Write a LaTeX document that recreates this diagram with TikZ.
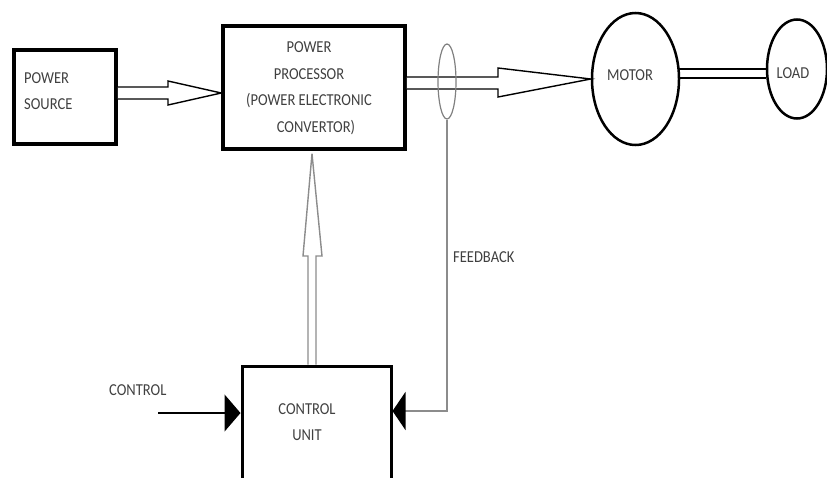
\documentclass[tikz,border=0pt]{standalone}
\usepackage{fontspec}
\setmainfont{Carlito}[FakeStretch=0.87]
\usetikzlibrary{arrows.meta,shapes.geometric,calc}
\tikzset{
  blk/.style={draw=black, line width=3.5pt, rectangle, inner sep=0pt},
  oval/.style={draw=black, line width=2.5pt, ellipse, inner sep=0pt},
  lbl/.style={text=black!75, font={\fontsize{16.7}{26.5}\selectfont}, inner sep=0pt},
  hollow/.style={draw=black, line width=1.4pt, fill=white, line join=miter},
  hollowg/.style={draw=black!45, line width=1.4pt, fill=white, line join=miter},
  fbline/.style={draw=black!45, line width=1.5pt},
  cline/.style={draw=black, line width=1.3pt},
}
\begin{document}
\begin{tikzpicture}[x=1pt,y=-1pt]
\useasboundingbox (0,0) rectangle (827,477);
% boxes
\node[blk, minimum width=102, minimum height=94] (src) at (65,97) {};
\node[lbl, anchor=west, align=left] (srct) at (24,91) {POWER\\SOURCE};
\node[blk, minimum width=182, minimum height=123] (pp) at (314,87.5) {};
\node[lbl, align=center] (ppt) at (309,88) {POWER\\PROCESSOR\\(POWER ELECTRONIC\\\hspace*{14pt}CONVERTOR)};
\node[oval, minimum width=87, minimum height=132] (motor) at (635.5,79) {};
\node[lbl] (motort) at (630,75) {MOTOR};
\node[oval, minimum width=60, minimum height=99] (load) at (797,69) {};
\node[lbl] (loadt) at (793,73) {LOAD};
\node[blk, line width=3pt, minimum width=149, minimum height=118] (cu) at (316.5,425) {};
\node[lbl, align=center] (cut) at (307,422) {CONTROL\\UNIT};
% labels
\node[lbl, anchor=west] (fbt) at (453,257) {FEEDBACK};
\node[lbl, anchor=west] (ctlt) at (109,390) {CONTROL};
% hollow arrow source -> processor
\draw[hollow] (src.east |- 0,87) -- (168,87) -- (168,81) -- (pp.west |- 0,93) -- (168,105) -- (168,99) -- (src.east |- 0,99);
% hollow arrow processor -> motor
\draw[hollow] (pp.east |- 0,77) -- (498,77) -- (498,68) -- (motor.west) -- (498,97) -- (498,89) -- (pp.east |- 0,89);
% shaft motor -> load
\draw[line width=1.5pt] ($(motor.east |- 0,69)+(-1,0)$) -- (load.west |- 0,69);
\draw[line width=1.5pt] ($(motor.east |- 0,78)+(-1,0)$) -- (load.west |- 0,78);
% ring on the power lines
\node[draw=black!50, line width=1.2pt, ellipse, minimum width=18, minimum height=75, inner sep=0pt] (ring) at (447,81.5) {};
% hollow arrow control unit -> processor
\draw[hollowg] (cu.north -| 308,0) -- (308,256) -- (303,256) -- ($(pp.south -| 312,0)+(0,3)$) -- (322,256) -- (316,256) -- (cu.north -| 316,0);
% feedback
\coordinate (fbc) at ($(cu.east)+(0,-14)$);
\draw[fbline, -{Triangle[length=13pt,width=38pt,color=black]}] (ring.south) |- (fbc);
% control input
\coordinate (ctl) at (158,413);
\draw[cline, -{Triangle[length=16pt,width=37pt]}] (ctl) -- (ctl -| cu.west);
\end{tikzpicture}
\end{document}
